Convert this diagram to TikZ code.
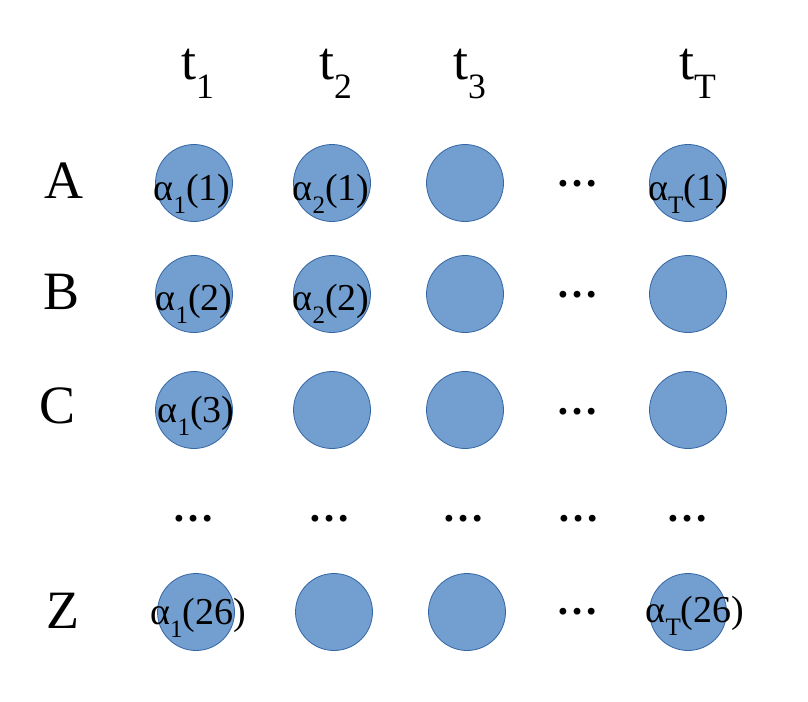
\documentclass[tikz,border=0pt]{standalone}
\usepackage{fontspec}
\usepackage{graphicx}
\setmainfont{Liberation Serif}
\usetikzlibrary{positioning,calc}
\definecolor{cellblue}{HTML}{729FCF}
\definecolor{celledge}{HTML}{3465A4}
\newcommand{\lowidx}[2]{#1\raisebox{-0.36em}{\scalebox{0.66}{#2}}}
\tikzset{
  cell/.style={circle, draw=celledge, fill=cellblue, line width=0.8pt, minimum size=77pt, inner sep=0pt},
  headlbl/.style={font=\fontsize{54}{60}\selectfont, inner sep=0pt},
  vallbl/.style={font=\fontsize{38}{42}\selectfont, inner sep=0pt, anchor=base},
  gapdots/.style={font=\fontsize{42}{46}\selectfont\bfseries, inner sep=0pt, anchor=base},
}

\begin{document}
\begin{tikzpicture}[x=1pt,y=-1pt]
  \useasboundingbox (0,0) rectangle (808,701);
  % column heads
  \node[headlbl, anchor=base west] (t1) at (181,79) {\lowidx{t}{1}};
  \node[headlbl, anchor=base west] (t2) at (319,79) {\lowidx{t}{2}};
  \node[headlbl, anchor=base west] (t3) at (453,79) {\lowidx{t}{3}};
  \node[headlbl, anchor=base west] (tT) at (679,79) {\lowidx{t}{T}};
  % row heads
  \node[headlbl, anchor=base] (rA) at (64,198) {A};
  \node[headlbl, anchor=base] (rB) at (62,309) {B};
  \node[headlbl, anchor=base] (rC) at (58,423) {C};
  \node[headlbl, anchor=base] (rZ) at (63,628) {Z};
  % cells
  \foreach \r/\y/\dx in {A/183/0,B/294/0,C/410/0,Z/612/2}
    \foreach \c/\x in {1/194,2/332,3/465}
      \node[cell] (\r\c) at (\x+\dx,\y) {};
  \foreach \r/\y in {A/183,B/294,C/410,Z/612}
    \node[cell] (\r T) at (688,\y) {};
  % values
  \node[vallbl] (vA1) at (192,200) {\lowidx{α}{1}(1)};
  \node[vallbl] (vA2) at (331,200) {\lowidx{α}{2}(1)};
  \node[vallbl] (vAT) at (688,200) {\lowidx{α}{T}(1)};
  \node[vallbl] (vB1) at (194,310) {\lowidx{α}{1}(2)};
  \node[vallbl] (vB2) at (331,310) {\lowidx{α}{2}(2)};
  \node[vallbl] (vC1) at (196,422) {\lowidx{α}{1}(3)};
  \node[vallbl] (vZ1) at (198,624) {\lowidx{α}{1}(26)};
  \node[vallbl] (vZT) at (695,622) {\lowidx{α}{T}(26)};
  % gaps
  \foreach \r/\y in {A/186,B/297,C/414,Z/614}
    \node[gapdots] (g\r) at (577,\y) {…};
  \foreach \c/\x in {1/193,2/329,3/463,4/578,T/687}
    \node[gapdots] (g\c) at (\x,521) {…};
\end{tikzpicture}
\end{document}
